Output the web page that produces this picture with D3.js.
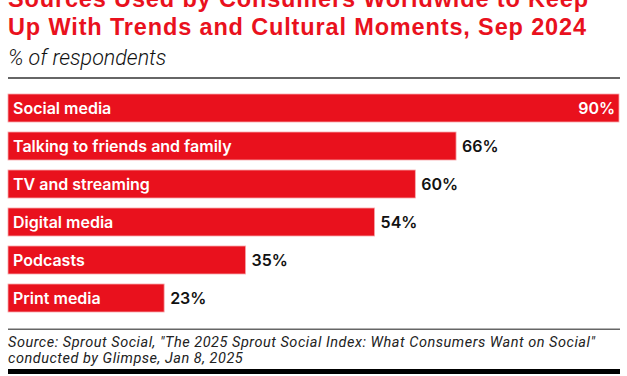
<!DOCTYPE html>
<html>
<head>
<meta charset="utf-8">
<script src="https://cdn.jsdelivr.net/npm/d3@7"></script>
<style>
  body { margin: 0; background: #fff; }
  svg { display: block; }
</style>
</head>
<body>
<div id="container"></div>
<script>
const categories = ["Social media", "Talking to friends and family", "TV and streaming", "Digital media", "Podcasts", "Print media"];
const values = [90, 66, 60, 54, 35, 23];
const titleLines = ["Sources Used by Consumers Worldwide to Keep", "Up With Trends and Cultural Moments, Sep 2024"];
const subtitle = "% of respondents";
const sourceLines = ["Source: Sprout Social, \"The 2025 Sprout Social Index: What Consumers Want on Social\"", "conducted by Glimpse, Jan 8, 2025"];

const width = 627, height = 376;
const red = "#e9111d";

const svg = d3.select("#container").append("svg")
    .attr("width", width)
    .attr("height", height);

// stretch a block of lines so its widest line reaches the target width
function fitSpacing(sel, target) {
    const nodes = sel.nodes();
    const widest = nodes.reduce((a, n) => n.getComputedTextLength() > a.getComputedTextLength() ? n : a);
    const sp = (target - widest.getComputedTextLength()) / (widest.textContent.length - 1);
    sel.style("letter-spacing", sp + "px");
}

// title (first line runs off the top edge)
const title = svg.append("g").selectAll("text")
    .data(titleLines)
  .enter().append("text")
    .attr("x", 8)
    .attr("y", (d, i) => 7 + i * 28)
    .style("font-family", "'Liberation Sans', Arial, sans-serif")
    .style("font-weight", "bold")
    .style("font-size", "23.5px")
    .style("fill", red)
    .text(d => d);
fitSpacing(title.filter((d, i) => i === 1), 578);
title.filter((d, i) => i === 0).style("letter-spacing", title.filter((d, i) => i === 1).style("letter-spacing"));

svg.append("text")
    .attr("x", 8)
    .attr("y", 65)
    .style("font-family", "Roboto, sans-serif")
    .style("font-style", "italic")
    .style("font-weight", 300)
    .style("font-size", "21.5px")
    .style("fill", "#111")
    .text(subtitle);

svg.append("rect")
    .attr("x", 8).attr("y", 77)
    .attr("width", 612).attr("height", 2)
    .style("fill", "#666");

const x = d3.scaleLinear()
    .domain([0, 90])
    .range([8, 619]);

const y = d3.scaleBand()
    .domain(categories)
    .range([94, 312])
    .paddingInner(0.263)
    .paddingOuter(0);

const rows = svg.append("g").selectAll("g")
    .data(categories.map((c, i) => ({ cat: c, val: values[i] })))
  .enter().append("g");

rows.append("rect")
    .attr("x", x(0))
    .attr("y", d => y(d.cat))
    .attr("width", d => x(d.val) - x(0))
    .attr("height", y.bandwidth())
    .style("fill", red)
    .style("stroke", "#f7a9ad")
    .style("stroke-width", 0.8);

rows.append("text")
    .attr("x", x(0) + 5)
    .attr("y", d => y(d.cat) + y.bandwidth() / 2)
    .attr("dy", "0.36em")
    .style("font-family", "Inter, sans-serif")
    .style("font-weight", 600)
    .style("font-size", "16px")
    .style("fill", "#fff")
    .text(d => d.cat);

rows.append("text")
    .attr("x", d => d.val === d3.max(values) ? x(d.val) - 4 : x(d.val) + 6)
    .attr("y", d => y(d.cat) + y.bandwidth() / 2)
    .attr("dy", "0.36em")
    .style("text-anchor", d => d.val === d3.max(values) ? "end" : "start")
    .style("font-family", "Inter, sans-serif")
    .style("font-weight", 600)
    .style("font-size", "16px")
    .style("fill", d => d.val === d3.max(values) ? "#fff" : "#111")
    .text(d => d.val + "%");

svg.append("rect")
    .attr("x", 8).attr("y", 328.5)
    .attr("width", 612).attr("height", 1.5)
    .style("fill", "#666");

const source = svg.append("g").selectAll("text")
    .data(sourceLines)
  .enter().append("text")
    .attr("x", 8)
    .attr("y", (d, i) => 347 + i * 16)
    .style("font-family", "Roboto, sans-serif")
    .style("font-style", "italic")
    .style("font-size", "14.5px")
    .style("fill", "#222")
    .text(d => d);
fitSpacing(source, 587);

svg.append("rect")
    .attr("x", 8).attr("y", 369)
    .attr("width", 612).attr("height", 5)
    .style("fill", "#000");
</script>
</body>
</html>
